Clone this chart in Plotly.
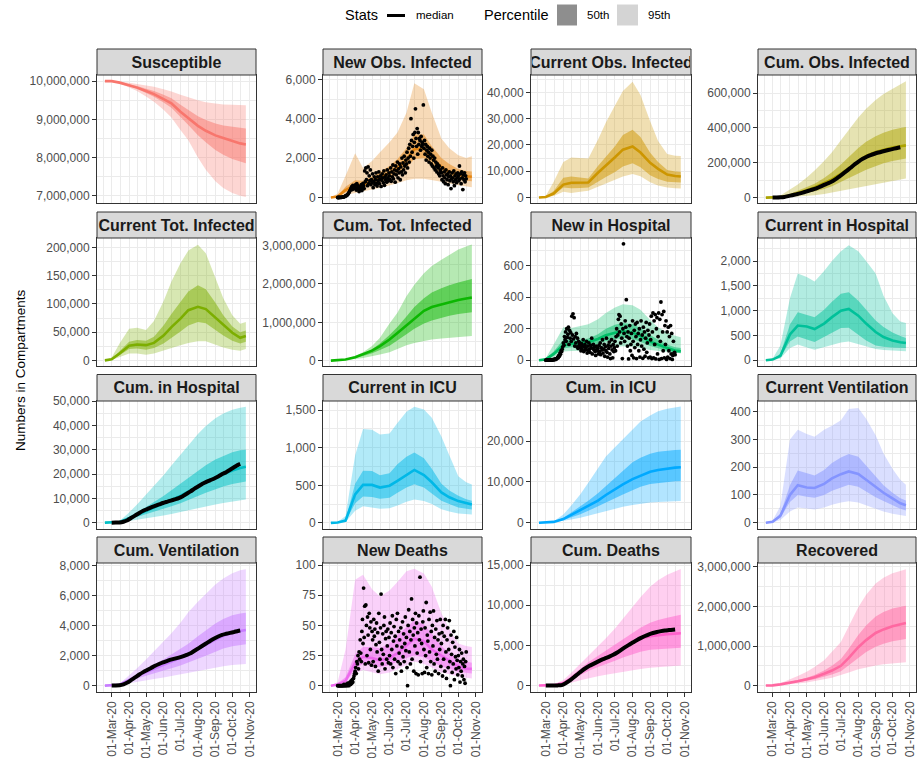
import pandas as pd
import plotly.graph_objects as go

# ---------------- data ----------------
SIM_DATES = ["2020-02-18", "2020-03-01", "2020-03-15", "2020-04-01", "2020-04-15", "2020-05-01",
             "2020-05-15", "2020-06-01", "2020-06-15", "2020-07-01", "2020-07-15", "2020-08-01",
             "2020-08-15", "2020-09-01", "2020-09-15", "2020-10-01", "2020-10-15", "2020-10-25"]

MONTH_TICKS = ["2020-03-01", "2020-04-01", "2020-05-01", "2020-06-01", "2020-07-01",
               "2020-08-01", "2020-09-01", "2020-10-01", "2020-11-01"]
MONTH_LABELS = ["01-Mar-20", "01-Apr-20", "01-May-20", "01-Jun-20", "01-Jul-20",
                "01-Aug-20", "01-Sep-20", "01-Oct-20", "01-Nov-20"]
MINOR_TICKS = ["2020-02-15", "2020-03-16", "2020-04-16", "2020-05-16", "2020-06-16",
               "2020-07-16", "2020-08-16", "2020-09-16", "2020-10-16"]

TITLES = ["Susceptible", "New Obs. Infected", "Current Obs. Infected", "Cum. Obs. Infected",
          "Current Tot. Infected", "Cum. Tot. Infected", "New in Hospital", "Current in Hospital",
          "Cum. in Hospital", "Current in ICU", "Cum. in ICU", "Current Ventilation",
          "Cum. Ventilation", "New Deaths", "Cum. Deaths", "Recovered"]
COLORS = ["#F8766D", "#E68613", "#CD9600", "#ABA300", "#7CAE00", "#0CB702", "#00BE67", "#00C19A",
          "#00BFC4", "#00B8E7", "#00A9FF", "#8494FF", "#C77CFF", "#ED68ED", "#FF61CC", "#FF68A1"]

# Susceptible
sus_med = [10.0e6, 10.0e6, 9.96e6, 9.89e6, 9.83e6, 9.74e6, 9.66e6, 9.53e6, 9.42e6, 9.2e6, 9.03e6, 8.83e6, 8.7e6, 8.58e6, 8.51e6, 8.43e6, 8.37e6, 8.34e6]
sus_hi50 = [10.0e6, 10.0e6, 9.97e6, 9.92e6, 9.87e6, 9.8e6, 9.74e6, 9.64e6, 9.55e6, 9.38e6, 9.24e6, 9.08e6, 8.98e6, 8.89e6, 8.84e6, 8.8e6, 8.77e6, 8.76e6]
sus_lo50 = [10.0e6, 10.0e6, 9.95e6, 9.87e6, 9.8e6, 9.69e6, 9.59e6, 9.44e6, 9.3e6, 9.05e6, 8.85e6, 8.58e6, 8.4e6, 8.2e6, 8.07e6, 7.96e6, 7.89e6, 7.85e6]
sus_hi95 = [10.0e6, 10.0e6, 9.99e6, 9.96e6, 9.93e6, 9.89e6, 9.85e6, 9.79e6, 9.73e6, 9.64e6, 9.57e6, 9.5e6, 9.45e6, 9.41e6, 9.39e6, 9.38e6, 9.37e6, 9.37e6]
sus_lo95 = [10.0e6, 10.0e6, 9.94e6, 9.83e6, 9.74e6, 9.6e6, 9.46e6, 9.25e6, 9.05e6, 8.72e6, 8.45e6, 8.0e6, 7.68e6, 7.38e6, 7.2e6, 7.07e6, 7.0e6, 6.97e6]

# New Obs. Infected
nobs_med = [0, 50, 380, 620, 650, 850, 1000, 1250, 1500, 1900, 2450, 2500, 2000, 1550, 1300, 1150, 1080, 1050]
nobs_hi50 = [0, 80, 550, 880, 850, 1050, 1300, 1600, 1950, 2500, 3200, 3200, 2600, 2000, 1700, 1450, 1350, 1320]
nobs_lo50 = [0, 20, 260, 450, 500, 650, 780, 950, 1150, 1500, 1950, 2000, 1600, 1200, 1000, 900, 850, 820]
nobs_hi95 = [0, 200, 1100, 2250, 1500, 1850, 2300, 2800, 3300, 4300, 5800, 5500, 4300, 3000, 2500, 2150, 2000, 2100]
nobs_lo95 = [0, 5, 120, 250, 300, 400, 480, 600, 720, 880, 950, 950, 900, 800, 700, 620, 560, 520]

# Current Obs. Infected
cobs_med = [0, 200, 1500, 4900, 5600, 5600, 5700, 9400, 12000, 15300, 18200, 19400, 17100, 13200, 10900, 8700, 8200, 8000]
cobs_hi50 = [0, 300, 2500, 7500, 8000, 7500, 7200, 12000, 15500, 19500, 23800, 25800, 23000, 17000, 13500, 10500, 9900, 9700]
cobs_lo50 = [0, 150, 1000, 3800, 3500, 3600, 3800, 6000, 7800, 9700, 11800, 13000, 11500, 8500, 7000, 6000, 5800, 5700]
cobs_hi95 = [0, 600, 6000, 13500, 15200, 15000, 14800, 22000, 28500, 35000, 40500, 44000, 39000, 29000, 21500, 16500, 15900, 15800]
cobs_lo95 = [0, 80, 600, 2200, 1700, 2200, 2600, 4200, 5500, 6800, 8000, 8900, 8100, 5800, 4600, 3800, 3500, 3400]

# Cum. Obs. Infected
cumobs_med = [0, 500, 3000, 12000, 25000, 42000, 58000, 82000, 105000, 137000, 170000, 212000, 240000, 262000, 275000, 287000, 295000, 300000]
cumobs_hi50 = [0, 1000, 5000, 20000, 38000, 58000, 80000, 112000, 145000, 190000, 235000, 285000, 320000, 352000, 372000, 390000, 400000, 405000]
cumobs_lo50 = [0, 300, 2000, 7000, 15000, 25000, 35000, 50000, 65000, 88000, 110000, 138000, 160000, 182000, 197000, 210000, 220000, 225000]
cumobs_hi95 = [0, 2000, 12000, 45000, 75000, 115000, 155000, 210000, 260000, 330000, 390000, 460000, 510000, 560000, 595000, 625000, 652000, 668000]
cumobs_lo95 = [0, 100, 1000, 4000, 7000, 10000, 14000, 20000, 27000, 37000, 46000, 57000, 66000, 77000, 86000, 96000, 104000, 110000]

# Current Tot. Infected
ctot_med = [0, 2000, 12000, 26000, 28000, 27000, 31000, 44000, 59000, 74000, 89000, 95000, 91000, 76000, 63000, 49000, 40000, 43000]
ctot_hi50 = [0, 3000, 16000, 33000, 36000, 35000, 42000, 62000, 82000, 103000, 122000, 133000, 126000, 102000, 80000, 60000, 50000, 53000]
ctot_lo50 = [0, 1000, 9000, 20000, 21000, 19000, 22000, 30000, 40000, 51000, 62000, 68000, 66000, 54000, 44000, 35000, 30000, 33000]
ctot_hi95 = [0, 5000, 30000, 56000, 58000, 54000, 70000, 105000, 140000, 172000, 195000, 205000, 190000, 145000, 110000, 80000, 65000, 68000]
ctot_lo95 = [0, 500, 5000, 12000, 12000, 10000, 12000, 17000, 22000, 27000, 31000, 34000, 34000, 28000, 23000, 19000, 17000, 20000]

# Cum. Tot. Infected
cumtot_med = [0, 0.008e6, 0.03e6, 0.09e6, 0.16e6, 0.26e6, 0.38e6, 0.55e6, 0.72e6, 0.92e6, 1.1e6, 1.3e6, 1.4e6, 1.47e6, 1.53e6, 1.58e6, 1.62e6, 1.65e6]
cumtot_hi50 = [0, 0.01e6, 0.035e6, 0.1e6, 0.18e6, 0.3e6, 0.45e6, 0.67e6, 0.88e6, 1.15e6, 1.4e6, 1.63e6, 1.78e6, 1.89e6, 1.97e6, 2.04e6, 2.1e6, 2.13e6]
cumtot_lo50 = [0, 0.005e6, 0.02e6, 0.07e6, 0.12e6, 0.19e6, 0.28e6, 0.39e6, 0.52e6, 0.69e6, 0.83e6, 0.97e6, 1.05e6, 1.12e6, 1.17e6, 1.22e6, 1.25e6, 1.26e6]
cumtot_hi95 = [0, 0.01e6, 0.04e6, 0.12e6, 0.22e6, 0.38e6, 0.6e6, 0.97e6, 1.25e6, 1.68e6, 1.98e6, 2.28e6, 2.47e6, 2.63e6, 2.76e6, 2.9e6, 2.98e6, 3.03e6]
cumtot_lo95 = [0, 0.003e6, 0.012e6, 0.04e6, 0.07e6, 0.11e6, 0.16e6, 0.22e6, 0.3e6, 0.4e6, 0.46e6, 0.51e6, 0.55e6, 0.58e6, 0.6e6, 0.61e6, 0.63e6, 0.64e6]

# New in Hospital
nhosp_med = [0, 5, 40, 95, 105, 108, 115, 135, 158, 175, 183, 175, 155, 118, 98, 78, 62, 57]
nhosp_hi50 = [0, 8, 55, 130, 130, 130, 138, 165, 200, 225, 237, 228, 205, 160, 130, 100, 83, 78]
nhosp_lo50 = [0, 3, 28, 75, 82, 85, 92, 105, 120, 135, 142, 135, 118, 90, 75, 60, 48, 44]
nhosp_hi95 = [0, 12, 100, 210, 205, 215, 228, 260, 300, 335, 355, 350, 320, 255, 210, 175, 155, 146]
nhosp_lo95 = [0, 2, 18, 55, 58, 60, 65, 72, 80, 86, 89, 86, 78, 65, 58, 52, 48, 46]

# Current in Hospital
chosp_med = [0, 15, 90, 520, 700, 680, 630, 740, 870, 1000, 1035, 900, 740, 570, 470, 400, 365, 348]
chosp_hi50 = [0, 20, 130, 720, 970, 920, 870, 1020, 1180, 1340, 1370, 1200, 1010, 800, 670, 560, 490, 450]
chosp_lo50 = [0, 10, 60, 380, 480, 420, 370, 470, 560, 650, 655, 520, 400, 300, 275, 260, 250, 247]
chosp_hi95 = [0, 30, 300, 1250, 1750, 1680, 1590, 1800, 2000, 2200, 2320, 2200, 2000, 1750, 1300, 950, 780, 750]
chosp_lo95 = [0, 5, 35, 250, 320, 260, 215, 260, 310, 360, 380, 330, 280, 230, 210, 195, 185, 180]

# Cum. in Hospital
cumhosp_med = [0, 30, 300, 1800, 3200, 4800, 6200, 7800, 9300, 11000, 12800, 15000, 16700, 18600, 20000, 21500, 22500, 23000]
cumhosp_hi50 = [0, 40, 400, 2400, 4300, 6500, 8500, 11000, 13300, 16000, 18500, 21500, 23600, 26000, 27500, 29000, 29800, 30000]
cumhosp_lo50 = [0, 20, 200, 1300, 2300, 3500, 4500, 5700, 6800, 8000, 9300, 11000, 12300, 13800, 14900, 15900, 16600, 17000]
cumhosp_hi95 = [0, 60, 700, 4200, 7500, 11500, 15000, 19500, 23500, 28000, 32000, 36500, 39800, 43000, 45000, 46500, 47300, 47700]
cumhosp_lo95 = [0, 10, 120, 700, 1200, 1800, 2400, 3000, 3600, 4300, 5000, 5900, 6600, 7500, 8100, 8700, 9200, 9500]

# Current in ICU
cicu_med = [0, 5, 30, 380, 505, 505, 470, 495, 560, 640, 705, 635, 540, 405, 340, 290, 260, 243]
cicu_hi50 = [0, 7, 40, 520, 695, 690, 635, 660, 780, 880, 935, 860, 720, 520, 430, 360, 315, 296]
cicu_lo50 = [0, 3, 20, 260, 350, 345, 322, 335, 400, 470, 515, 470, 390, 295, 250, 205, 185, 177]
cicu_hi95 = [0, 12, 90, 900, 1250, 1240, 1175, 1190, 1330, 1480, 1545, 1510, 1400, 1150, 900, 620, 540, 509]
cicu_lo95 = [0, 2, 12, 160, 220, 205, 188, 195, 230, 280, 310, 290, 250, 180, 150, 125, 115, 111]

# Cum. in ICU
cumicu_med = [0, 20, 200, 900, 1900, 3000, 4000, 5400, 6800, 8300, 9400, 10700, 11600, 12500, 12900, 13300, 13500, 13600]
cumicu_hi50 = [0, 25, 250, 1200, 2500, 4000, 5400, 7200, 9000, 11000, 12800, 14800, 15900, 16900, 17400, 17700, 17850, 17900]
cumicu_lo50 = [0, 15, 150, 650, 1400, 2100, 2900, 3900, 4900, 6000, 6900, 8000, 8800, 9500, 9800, 10000, 10150, 10200]
cumicu_hi95 = [0, 30, 350, 2000, 4200, 7000, 9800, 13200, 16200, 18500, 20500, 23000, 24800, 26300, 27300, 27900, 28300, 28500]
cumicu_lo95 = [0, 10, 100, 400, 800, 1200, 1650, 2200, 2800, 3400, 3900, 4350, 4650, 4950, 5100, 5200, 5270, 5300]

# Current Ventilation
cvent_med = [0, 3, 25, 100, 135, 127, 125, 140, 160, 175, 185, 176, 155, 128, 108, 88, 70, 63]
cvent_hi50 = [0, 4, 32, 135, 188, 178, 170, 190, 215, 235, 248, 238, 205, 165, 135, 108, 88, 80]
cvent_lo50 = [0, 2, 18, 75, 100, 94, 90, 100, 115, 128, 137, 130, 112, 92, 78, 62, 50, 44]
cvent_hi95 = [0, 8, 60, 300, 335, 320, 310, 335, 350, 370, 410, 414, 375, 315, 250, 195, 155, 137]
cvent_lo95 = [0, 1, 10, 40, 55, 52, 48, 55, 65, 73, 77, 73, 63, 50, 40, 32, 27, 24]

# Cum. Ventilation
cumvent_med = [0, 5, 60, 380, 650, 900, 1120, 1350, 1600, 1850, 2100, 2450, 2750, 3080, 3320, 3530, 3650, 3710]
cumvent_hi50 = [0, 7, 80, 450, 800, 1120, 1420, 1750, 2080, 2450, 2800, 3300, 3700, 4150, 4450, 4700, 4820, 4870]
cumvent_lo50 = [0, 4, 45, 290, 480, 660, 820, 990, 1160, 1350, 1540, 1800, 2000, 2280, 2470, 2630, 2720, 2760]
cumvent_hi95 = [0, 10, 120, 650, 1150, 1750, 2300, 2950, 3500, 4200, 4900, 5600, 6150, 6750, 7150, 7500, 7700, 7780]
cumvent_lo95 = [0, 2, 25, 160, 260, 360, 440, 540, 620, 720, 820, 950, 1050, 1200, 1300, 1380, 1420, 1440]

# New Deaths
ndeath_med = [0, 1, 4, 19, 24, 23, 21, 23, 27, 33, 39, 37, 30, 25, 21, 16, 14, 14]
ndeath_hi50 = [0, 2, 7, 26, 32, 32, 31, 35, 42, 48, 54, 51, 43, 33, 27, 22, 20, 19]
ndeath_lo50 = [0, 0.5, 2.5, 14, 18, 17, 15.5, 17, 20, 23, 25, 23.5, 20, 16, 14, 11.5, 10.5, 10]
ndeath_hi95 = [0, 3, 30, 88, 92, 80, 74, 79, 86, 95, 97, 93, 82, 60, 47, 35, 33, 32]
ndeath_lo95 = [0, 0, 1, 10, 13, 11, 9.5, 11, 14, 17, 20, 18, 15, 11, 9.5, 7.5, 6.5, 6]

# Cum. Deaths
cumdeath_med = [0, 3, 50, 300, 900, 1700, 2300, 2900, 3350, 4000, 4650, 5300, 5850, 6150, 6300, 6400, 6460, 6500]
cumdeath_hi50 = [0, 5, 70, 420, 1150, 2100, 2900, 3700, 4300, 5000, 5700, 6500, 7200, 7800, 8150, 8450, 8650, 8800]
cumdeath_lo50 = [0, 2, 30, 220, 680, 1300, 1800, 2300, 2700, 3100, 3500, 3900, 4200, 4450, 4550, 4620, 4670, 4700]
cumdeath_hi95 = [0, 10, 120, 700, 1600, 2700, 3700, 4900, 5900, 7100, 8300, 9800, 11000, 12300, 13100, 13800, 14250, 14500]
cumdeath_lo95 = [0, 1, 15, 110, 350, 650, 900, 1150, 1350, 1550, 1720, 1900, 2050, 2200, 2300, 2400, 2460, 2500]

# Recovered
recov_med = [0, 0.005e6, 0.03e6, 0.07e6, 0.11e6, 0.16e6, 0.21e6, 0.3e6, 0.38e6, 0.5e6, 0.7e6, 0.97e6, 1.15e6, 1.33e6, 1.42e6, 1.5e6, 1.55e6, 1.58e6]
recov_hi50 = [0, 0.007e6, 0.04e6, 0.09e6, 0.14e6, 0.2e6, 0.27e6, 0.38e6, 0.5e6, 0.67e6, 0.93e6, 1.28e6, 1.52e6, 1.75e6, 1.86e6, 1.95e6, 1.99e6, 2.02e6]
recov_lo50 = [0, 0.003e6, 0.02e6, 0.05e6, 0.08e6, 0.12e6, 0.16e6, 0.22e6, 0.28e6, 0.36e6, 0.5e6, 0.7e6, 0.85e6, 0.98e6, 1.06e6, 1.12e6, 1.16e6, 1.18e6]
recov_hi95 = [0, 0.01e6, 0.06e6, 0.15e6, 0.24e6, 0.35e6, 0.47e6, 0.64e6, 0.85e6, 1.1e6, 1.5e6, 1.98e6, 2.3e6, 2.58e6, 2.73e6, 2.84e6, 2.9e6, 2.94e6]
recov_lo95 = [0, 0.002e6, 0.012e6, 0.03e6, 0.05e6, 0.08e6, 0.11e6, 0.16e6, 0.2e6, 0.26e6, 0.33e6, 0.41e6, 0.46e6, 0.51e6, 0.54e6, 0.56e6, 0.58e6, 0.59e6]

# Observed daily data (from 01-Mar-20, one value per day)
OBS_START = "2020-03-01"
obs_new_infected = [
    0, 0, 0, 2, 3, 5, 8, 10, 15, 20, 25, 35, 45, 60, 75, 90, 110, 130, 160, 200, 250, 300, 350, 420, 480, 550, 400, 620, 500, 450, 580,
    520, 650, 380, 700, 450, 600, 520, 300, 480, 420, 550, 650, 350, 500, 720, 600, 450, 1350, 800, 1500, 900, 1250, 600, 1550, 700, 1100, 850, 1400, 650, 900,
    750, 1200, 500, 800, 1050, 650, 900, 1250, 720, 580, 1050, 850, 1300, 700, 950, 1100, 560, 880, 1200, 1000, 750, 1350, 620, 1050, 900, 1150, 780, 1400, 1000, 850, 1250,
    1100, 900, 1500, 820, 1300, 1050, 1650, 950, 1200, 1400, 780, 1600, 1150, 1350, 1800, 1000, 1450, 1250, 1700, 900, 1550, 1300, 2000, 1150, 1750, 1400, 2100, 1600, 1250, 1900,
    1700, 2300, 1500, 2000, 2500, 1800, 2700, 2100, 4000, 2900, 2300, 2600, 3200, 2000, 2800, 3300, 4500, 3000, 2600, 3500, 2200, 3300, 2700, 3000, 2900, 2400, 3100, 2600, 2800, 2700, 4700,
    2500, 2900, 2200, 2700, 1900, 2400, 2600, 2100, 2300, 1800, 2500, 2000, 2200, 1700, 2400, 1600, 2100, 1900, 1500, 2000, 1400, 1800, 1600, 1300, 1700, 1500, 1200, 1600, 1100, 1400, 1300,
    1250, 900, 1500, 1100, 800, 1300, 1000, 700, 1400, 1150, 900, 1200, 650, 1050, 1300, 850, 1100, 450, 950, 1250, 1000, 800, 1350, 600, 1100, 900, 1200, 750, 1000, 1250,
    1100, 850, 1600, 950, 1200, 700, 1300, 1000, 400, 1150, 900, 1250, 800, 1100, 950,
]
obs_new_hospital = [
    0, 0, 0, 0, 1, 0, 2, 1, 3, 0, 2, 4, 1, 3, 5, 2, 6, 8, 5, 10, 12, 20, 15, 30, 25, 45, 38, 60, 55, 70, 85,
    110, 95, 150, 130, 180, 120, 200, 145, 165, 210, 100, 190, 140, 175, 120, 280, 160, 295, 135, 270, 90, 150, 110, 170, 85, 140, 75, 120, 95, 110,
    80, 60, 105, 70, 90, 130, 55, 85, 100, 65, 75, 120, 45, 90, 60, 110, 70, 50, 95, 80, 140, 40, 75, 100, 65, 85, 55, 30, 90, 70, 60,
    75, 40, 95, 55, 110, 35, 80, 65, 130, 45, 70, 100, 25, 85, 60, 140, 50, 20, 95, 75, 115, 40, 10, 90, 130, 65, 15, 100, 55, 80,
    120, 60, 150, 200, 90, 160, 260, 290, 180, 280, 110, 230, 140, 10, 200, 740, 170, 120, 250, 210, 385, 150, 90, 180, 8, 140, 220, 60, 100, 170, 30,
    250, 120, 15, 190, 80, 230, 150, 10, 240, 100, 170, 60, 200, 20, 130, 250, 90, 160, 12, 210, 70, 180, 25, 140, 240, 50, 110, 190, 15, 160, 230,
    20, 130, 280, 10, 180, 300, 15, 250, 100, 290, 8, 200, 270, 40, 150, 300, 5, 260, 120, 370, 10, 290, 180, 60, 310, 15, 220, 100, 250, 5,
    180, 20, 210, 60, 150, 10, 220, 40, 170, 5, 30, 120, 45, 50, 35,
]
obs_new_deaths = [
    0, 0, 0, 0, 0, 0, 0, 0, 0, 0, 0, 1, 0, 0, 1, 0, 1, 0, 2, 1, 0, 2, 3, 1, 4, 2, 5, 3, 6, 8, 10,
    12, 15, 10, 20, 18, 25, 14, 28, 22, 38, 27, 20, 45, 55, 35, 81, 40, 66, 18, 67, 50, 25, 57, 42, 19, 60, 48, 30, 53, 17,
    45, 38, 20, 55, 41, 47, 16, 34, 52, 28, 44, 12, 60, 36, 22, 48, 76, 30, 18, 43, 26, 50, 57, 14, 39, 45, 22, 33, 47, 19, 40,
    25, 52, 18, 44, 30, 58, 15, 37, 49, 22, 41, 10, 55, 33, 60, 20, 45, 27, 38, 18, 48, 12, 32, 53, 24, 43, 20, 35, 57, 29,
    40, 15, 0, 50, 63, 28, 45, 18, 38, 72, 22, 55, 42, 12, 48, 33, 60, 10, 52, 27, 44, 9, 58, 38, 90, 20, 47, 35, 10, 53, 62,
    30, 11, 48, 25, 69, 15, 42, 37, 10, 55, 28, 61, 20, 45, 9, 50, 33, 62, 18, 40, 12, 47, 26, 54, 22, 38, 10, 43, 30, 55, 16,
    35, 44, 8, 50, 22, 41, 12, 55, 28, 6, 38, 48, 15, 30, 54, 20, 0, 42, 26, 11, 36, 18, 45, 5, 32, 24, 14, 40, 21, 9,
    25, 15, 30, 3, 20, 12, 27, 8, 18, 22, 5, 16, 2, 20, 28,
]

# Observed cumulative data (weekly from 01-Mar-20, plus 15-Oct-20)
CUM_OBS_DATES = ["2020-03-01", "2020-03-08", "2020-03-15", "2020-03-22", "2020-03-29", "2020-04-05",
                 "2020-04-12", "2020-04-19", "2020-04-26", "2020-05-03", "2020-05-10", "2020-05-17",
                 "2020-05-24", "2020-05-31", "2020-06-07", "2020-06-14", "2020-06-21", "2020-06-28",
                 "2020-07-05", "2020-07-12", "2020-07-19", "2020-07-26", "2020-08-02", "2020-08-09",
                 "2020-08-16", "2020-08-23", "2020-08-30", "2020-09-06", "2020-09-13", "2020-09-20",
                 "2020-09-27", "2020-10-04", "2020-10-11", "2020-10-15"]
obs_cum_infected = [0, 200, 1500, 4000, 8600, 13600, 18600, 23900, 30900, 37900, 45000, 52000, 61400, 71200, 81000, 90800, 104500,
                    121000, 137800, 154700, 173300, 192000, 208400, 222500, 234500, 244000, 251800, 258800, 264800, 270300, 275800, 281000, 286000, 289000]
obs_cum_hospital = [0, 30, 100, 400, 1000, 2000, 3000, 4000, 4900, 5600, 6300, 6900, 7500, 8100, 8600, 9100, 9600, 10100, 10900, 11900,
                    12900, 14000, 15000, 16000, 16800, 17500, 18200, 19000, 20000, 20800, 21800, 22800, 23800, 24200]
obs_cum_ventilation = [0, 5, 20, 80, 200, 380, 560, 740, 900, 1040, 1180, 1320, 1440, 1550, 1640, 1730, 1800, 1870, 1950, 2050,
                       2160, 2330, 2490, 2660, 2830, 3000, 3150, 3280, 3390, 3460, 3520, 3580, 3650, 3680]
obs_cum_deaths = [0, 0, 5, 20, 60, 300, 600, 1000, 1400, 1800, 2150, 2450, 2700, 2950, 3200, 3400, 3600, 3830, 4120, 4450,
                  4780, 5080, 5380, 5670, 5930, 6170, 6380, 6540, 6670, 6770, 6850, 6900, 6950, 6980]

# ---------------- panel table ----------------
PANELS = [
    dict(q=(sus_med, sus_lo50, sus_hi50, sus_lo95, sus_hi95), yr=[6.81e6, 10.16e6], dt=1e6),
    dict(q=(nobs_med, nobs_lo50, nobs_hi50, nobs_lo95, nobs_hi95), yr=[-280, 6220], dt=2000, daily=obs_new_infected),
    dict(q=(cobs_med, cobs_lo50, cobs_hi50, cobs_lo95, cobs_hi95), yr=[-2100, 46600], dt=10000),
    dict(q=(cumobs_med, cumobs_lo50, cumobs_hi50, cumobs_lo95, cumobs_hi95), yr=[-31000, 704000], dt=200000, cum=obs_cum_infected),
    dict(q=(ctot_med, ctot_lo50, ctot_hi50, ctot_lo95, ctot_hi95), yr=[-10000, 217000], dt=50000),
    dict(q=(cumtot_med, cumtot_lo50, cumtot_hi50, cumtot_lo95, cumtot_hi95), yr=[-0.14e6, 3.2e6], dt=1e6),
    dict(q=(nhosp_med, nhosp_lo50, nhosp_hi50, nhosp_lo95, nhosp_hi95), yr=[-37, 777], dt=200, daily=obs_new_hospital),
    dict(q=(chosp_med, chosp_lo50, chosp_hi50, chosp_lo95, chosp_hi95), yr=[-115, 2465], dt=500),
    dict(q=(cumhosp_med, cumhosp_lo50, cumhosp_hi50, cumhosp_lo95, cumhosp_hi95), yr=[-2400, 50100], dt=10000, cum=obs_cum_hospital),
    dict(q=(cicu_med, cicu_lo50, cicu_hi50, cicu_lo95, cicu_hi95), yr=[-75, 1622], dt=500),
    dict(q=(cumicu_med, cumicu_lo50, cumicu_hi50, cumicu_lo95, cumicu_hi95), yr=[-1420, 29830], dt=10000),
    dict(q=(cvent_med, cvent_lo50, cvent_hi50, cvent_lo95, cvent_hi95), yr=[-21, 439], dt=100),
    dict(q=(cumvent_med, cumvent_lo50, cumvent_hi50, cumvent_lo95, cumvent_hi95), yr=[-395, 8190], dt=2000, cum=obs_cum_ventilation),
    dict(q=(ndeath_med, ndeath_lo50, ndeath_hi50, ndeath_lo95, ndeath_hi95), yr=[-4.85, 101.8], dt=25, daily=obs_new_deaths),
    dict(q=(cumdeath_med, cumdeath_lo50, cumdeath_hi50, cumdeath_lo95, cumdeath_hi95), yr=[-740, 15250], dt=5000, cum=obs_cum_deaths),
    dict(q=(recov_med, recov_lo50, recov_hi50, recov_lo95, recov_hi95), yr=[-0.15e6, 3.1e6], dt=1e6),
]

# ---------------- layout geometry (pixels) ----------------
W, H = 917, 758
COL_X = [(97, 256), (323, 482), (531, 691), (758, 916)]
ROW_Y = [(49, 75, 203), (212, 238, 366), (374.5, 401, 528.5), (537, 563, 691.5)]
X_RANGE = ["2020-02-04", "2020-11-12"]
FONT = "Liberation Sans, Arial, Helvetica, sans-serif"
GRID = "#EBEBEB"
DARK = "#333333"


def px(x):
    return x / W


def py(y):
    return 1 - y / H


def rgba(hx, a):
    h = hx.lstrip("#")
    return "rgba(%d,%d,%d,%.3f)" % (int(h[0:2], 16), int(h[2:4], 16), int(h[4:6], 16), a)


fig = go.Figure()
layout = dict(
    width=W, height=H, margin=dict(l=0, r=0, t=0, b=0, autoexpand=False),
    paper_bgcolor="white", plot_bgcolor="white", showlegend=False,
    font=dict(family=FONT), hovermode=False,
)
shapes, annotations = [], []
rev_dates = SIM_DATES[::-1]

for i, p in enumerate(PANELS):
    r, c = divmod(i, 4)
    k = i + 1
    xa = "x" if k == 1 else f"x{k}"
    ya = "y" if k == 1 else f"y{k}"
    x0, x1 = COL_X[c]
    st, pt, pb = ROW_Y[r]
    col = COLORS[i]
    med, lo50, hi50, lo95, hi95 = p["q"]

    fig.add_trace(go.Scatter(x=SIM_DATES + rev_dates, y=list(hi95) + list(lo95)[::-1], fill="toself",
                             fillcolor=rgba(col, 0.3), line=dict(width=0), mode="lines", xaxis=xa, yaxis=ya))
    fig.add_trace(go.Scatter(x=SIM_DATES + rev_dates, y=list(hi50) + list(lo50)[::-1], fill="toself",
                             fillcolor=rgba(col, 0.5), line=dict(width=0), mode="lines", xaxis=xa, yaxis=ya))
    fig.add_trace(go.Scatter(x=SIM_DATES, y=med, mode="lines", line=dict(color=col, width=2.6),
                             xaxis=xa, yaxis=ya))
    if "daily" in p:
        dd = list(pd.date_range(OBS_START, periods=len(p["daily"]), freq="D"))
        fig.add_trace(go.Scatter(x=dd, y=p["daily"], mode="markers",
                                 marker=dict(color="black", size=3.8, line=dict(width=0)),
                                 xaxis=xa, yaxis=ya))
    if "cum" in p:
        fig.add_trace(go.Scatter(x=CUM_OBS_DATES, y=p["cum"], mode="lines",
                                 line=dict(color="black", width=4, shape="spline", smoothing=0.6),
                                 xaxis=xa, yaxis=ya))

    bottom = (r == 3)
    layout["xaxis" if k == 1 else f"xaxis{k}"] = dict(
        domain=[px(x0), px(x1)], anchor=ya, type="date", range=X_RANGE, automargin=False,
        tickmode="array", tickvals=MONTH_TICKS, ticktext=MONTH_LABELS,
        showticklabels=bottom, ticks="outside" if bottom else "", ticklen=4, tickcolor=DARK,
        tickangle=-90, tickfont=dict(size=12, color="#4D4D4D", family=FONT),
        showgrid=True, gridcolor=GRID, gridwidth=1.2,
        minor=dict(tickmode="array", tickvals=MINOR_TICKS, showgrid=True, gridcolor=GRID, gridwidth=0.6),
        showline=True, mirror=True, linecolor=DARK, linewidth=1, zeroline=False, fixedrange=True,
    )
    layout["yaxis" if k == 1 else f"yaxis{k}"] = dict(
        domain=[py(pb), py(pt)], anchor=xa, range=p["yr"], automargin=False,
        tickmode="linear", tick0=0, dtick=p["dt"], tickformat=",",
        ticks="outside", ticklen=4, tickcolor=DARK,
        tickfont=dict(size=12, color="#4D4D4D", family=FONT),
        showgrid=True, gridcolor=GRID, gridwidth=1.2,
        minor=dict(tickmode="linear", tick0=0, dtick=p["dt"] / 2, showgrid=True, gridcolor=GRID, gridwidth=0.6),
        showline=True, mirror=True, linecolor=DARK, linewidth=1, zeroline=False, fixedrange=True,
    )
    # strip
    shapes.append(dict(type="rect", xref="paper", yref="paper", x0=px(x0), x1=px(x1), y0=py(pt), y1=py(st),
                       fillcolor="#D9D9D9", line=dict(color=DARK, width=1), layer="above"))
    annotations.append(dict(xref="paper", yref="paper", x=px((x0 + x1) / 2), y=py((st + pt) / 2),
                            text="<b>%s</b>" % TITLES[i], showarrow=False, xanchor="center", yanchor="middle",
                            width=x1 - x0 - 2, align="center",
                            font=dict(size=16, color="#1A1A1A", family=FONT)))

# y axis title
annotations.append(dict(xref="paper", yref="paper", x=px(20), y=py(370), text="Numbers in Compartments",
                        textangle=-90, showarrow=False, xanchor="center", yanchor="middle",
                        font=dict(size=13.5, color="black", family=FONT)))

# legend (drawn manually)
annotations += [
    dict(xref="paper", yref="paper", x=px(343), y=py(15), text="Stats", showarrow=False, xanchor="left",
         yanchor="middle", font=dict(size=14.5, color="black", family=FONT)),
    dict(xref="paper", yref="paper", x=px(414), y=py(15.5), text="median", showarrow=False, xanchor="left",
         yanchor="middle", font=dict(size=11.5, color="black", family=FONT)),
    dict(xref="paper", yref="paper", x=px(482), y=py(15), text="Percentile", showarrow=False, xanchor="left",
         yanchor="middle", font=dict(size=14.5, color="black", family=FONT)),
    dict(xref="paper", yref="paper", x=px(585), y=py(15.5), text="50th", showarrow=False, xanchor="left",
         yanchor="middle", font=dict(size=11.5, color="black", family=FONT)),
    dict(xref="paper", yref="paper", x=px(646), y=py(15.5), text="95th", showarrow=False, xanchor="left",
         yanchor="middle", font=dict(size=11.5, color="black", family=FONT)),
]
shapes += [
    dict(type="line", xref="paper", yref="paper", x0=px(387), x1=px(405), y0=py(15.5), y1=py(15.5),
         line=dict(color="black", width=3)),
    dict(type="rect", xref="paper", yref="paper", x0=px(557), x1=px(577), y0=py(25.5), y1=py(4.5),
         fillcolor="#8E8E8E", line=dict(width=0)),
    dict(type="rect", xref="paper", yref="paper", x0=px(617), x1=px(638), y0=py(25.5), y1=py(4.5),
         fillcolor="#D4D4D4", line=dict(width=0)),
]

layout["shapes"] = shapes
layout["annotations"] = annotations
fig.update_layout(**layout)
fig.write_html("out.html", config={"displayModeBar": False},
               post_script="document.body.style.margin='0px';document.body.style.overflow='hidden';")
